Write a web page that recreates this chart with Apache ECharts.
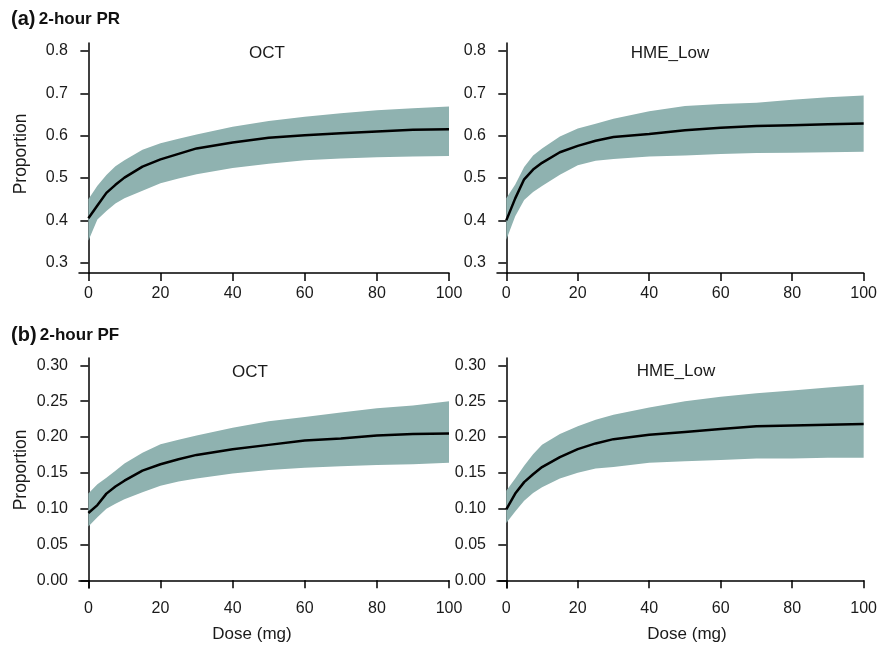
<!DOCTYPE html>
<html>
<head>
<meta charset="utf-8">
<script src="https://cdn.jsdelivr.net/npm/echarts@6/dist/echarts.min.js"></script>
<style>
  html, body { margin: 0; padding: 0; background: #fff; }
  #chart { width: 880px; height: 645px; }
</style>
</head>
<body>
<div id="chart"></div>
<script>
// dose grid shared by all four panels
const dose = [0, 2.5, 5, 7.5, 10, 15, 20, 25, 30, 40, 50, 60, 70, 80, 90, 100];

// (a) 2-hour PR
const prOctMean = [0.405, 0.435, 0.465, 0.484, 0.501, 0.527, 0.544, 0.557, 0.570, 0.584, 0.595, 0.601, 0.606, 0.610, 0.614, 0.615];
const prOctHi   = [0.450, 0.482, 0.507, 0.528, 0.542, 0.567, 0.582, 0.593, 0.603, 0.621, 0.635, 0.645, 0.653, 0.660, 0.665, 0.669];
const prOctLo   = [0.352, 0.402, 0.422, 0.440, 0.452, 0.470, 0.488, 0.499, 0.509, 0.524, 0.534, 0.542, 0.546, 0.549, 0.551, 0.552];
const prHmeMean = [0.400, 0.452, 0.497, 0.520, 0.536, 0.561, 0.576, 0.588, 0.597, 0.604, 0.613, 0.619, 0.623, 0.625, 0.627, 0.629];
const prHmeHi   = [0.452, 0.485, 0.526, 0.553, 0.570, 0.598, 0.617, 0.628, 0.640, 0.658, 0.670, 0.675, 0.678, 0.685, 0.691, 0.695];
const prHmeLo   = [0.354, 0.410, 0.448, 0.467, 0.481, 0.508, 0.530, 0.541, 0.545, 0.551, 0.553, 0.557, 0.559, 0.560, 0.561, 0.562];

// (b) 2-hour PF
const pfOctMean = [0.094, 0.105, 0.121, 0.131, 0.139, 0.153, 0.162, 0.169, 0.175, 0.183, 0.189, 0.195, 0.198, 0.202, 0.204, 0.205];
const pfOctHi   = [0.121, 0.134, 0.143, 0.153, 0.163, 0.178, 0.190, 0.196, 0.202, 0.213, 0.222, 0.228, 0.234, 0.240, 0.244, 0.250];
const pfOctLo   = [0.075, 0.088, 0.100, 0.107, 0.113, 0.123, 0.132, 0.138, 0.142, 0.149, 0.154, 0.157, 0.159, 0.161, 0.162, 0.164];
const pfHmeMean = [0.099, 0.121, 0.137, 0.148, 0.158, 0.172, 0.183, 0.191, 0.197, 0.203, 0.207, 0.211, 0.215, 0.216, 0.217, 0.218];
const pfHmeHi   = [0.125, 0.142, 0.160, 0.176, 0.189, 0.204, 0.215, 0.224, 0.231, 0.241, 0.250, 0.256, 0.261, 0.265, 0.269, 0.273];
const pfHmeLo   = [0.080, 0.096, 0.111, 0.122, 0.130, 0.142, 0.150, 0.156, 0.158, 0.164, 0.166, 0.168, 0.170, 0.170, 0.171, 0.171];

// tick labels
const xTicks = [0, 20, 40, 60, 80, 100];
const prTicks = [0.3, 0.4, 0.5, 0.6, 0.7, 0.8];
const pfTicks = [0, 0.05, 0.10, 0.15, 0.20, 0.25, 0.30];

const FONT = '"Liberation Sans", Arial, Helvetica, sans-serif';
const BAND = '#8fb2b0';

const pairs = (ys) => dose.map((d, i) => [d, ys[i]]);

const grids = [
  { left: 79, top: 43, width: 370, height: 230 },
  { left: 497, top: 43, width: 369, height: 230 },
  { left: 79, top: 358, width: 370, height: 230 },
  { left: 497, top: 358, width: 369, height: 230 }
];

const axisLine = { lineStyle: { color: '#000', width: 1.5 } };
const axisTick = { length: 8, lineStyle: { color: '#000', width: 1.5 } };

const xAxes = grids.map((g, i) => ({
  type: 'value', gridIndex: i, min: -2.6, max: 100,
  axisLine: axisLine,
  axisTick: Object.assign({ customValues: xTicks }, axisTick),
  axisLabel: { customValues: xTicks, color: '#1a1a1a', fontSize: 16, fontFamily: FONT, margin: 13 },
  splitLine: { show: false }
}));

const yAxes = grids.map((g, i) => {
  const isPR = i < 2;
  const ticks = isPR ? prTicks : pfTicks;
  return {
    type: 'value', gridIndex: i,
    min: isPR ? 0.2757 : -0.0107,
    max: isPR ? 0.819 : 0.3102,
    axisLine: axisLine,
    axisTick: Object.assign({ customValues: ticks }, axisTick),
    axisLabel: {
      customValues: ticks, color: '#1a1a1a', fontSize: 16, fontFamily: FONT, margin: 11,
      formatter: (v) => isPR ? v.toFixed(1) : v.toFixed(2)
    },
    splitLine: { show: false }
  };
});

const panels = [
  [prOctMean, prOctHi, prOctLo],
  [prHmeMean, prHmeHi, prHmeLo],
  [pfOctMean, pfOctHi, pfOctLo],
  [pfHmeMean, pfHmeHi, pfHmeLo]
];

const series = [];
panels.forEach((p, i) => {
  const [mean, hi, lo] = p;
  // band as one polygon: upper bound left→right, lower bound right→left
  series.push({
    type: 'custom', xAxisIndex: i, yAxisIndex: i, silent: true,
    data: dose.map((d, k) => [d, lo[k], hi[k]]),
    encode: { x: 0, y: [1, 2] },
    renderItem: function (params, api) {
      if (params.dataIndex !== 0) return null;
      const pts = [];
      dose.forEach((d, k) => pts.push(api.coord([d, hi[k]])));
      for (let k = dose.length - 1; k >= 0; k--) pts.push(api.coord([dose[k], lo[k]]));
      return { type: 'polygon', shape: { points: pts }, style: { fill: BAND } };
    }
  });
  series.push({
    type: 'line', xAxisIndex: i, yAxisIndex: i, z: 4,
    data: pairs(mean), symbol: 'none', silent: true,
    lineStyle: { color: '#000', width: 2.5 }
  });
});

const txt = (x, y, text, size, extra) => Object.assign({
  type: 'text', x: x, y: y,
  style: { text: text, fill: '#1a1a1a', font: size + 'px ' + FONT, textAlign: 'center', textVerticalAlign: 'middle' }
}, extra || {});

const rich = {
  a: { fontSize: 20, fontWeight: 'bold', fontFamily: FONT, fill: '#111' },
  b: { fontSize: 17, fontWeight: 'bold', fontFamily: FONT, fill: '#111' }
};

const graphic = [
  { type: 'text', x: 11, y: 19, style: { rich: rich, text: '{a|(a)} {b|2-hour PR}', textVerticalAlign: 'middle' } },
  { type: 'text', x: 11, y: 335, style: { rich: rich, text: '{a|(b)} {b|2-hour PF}', textVerticalAlign: 'middle' } },
  txt(267, 53, 'OCT', 17),
  txt(670, 53, 'HME_Low', 17),
  txt(250, 372, 'OCT', 17),
  txt(676, 371, 'HME_Low', 17),
  txt(21, 154, 'Proportion', 17.5, { rotation: Math.PI / 2 }),
  txt(21, 470, 'Proportion', 17.5, { rotation: Math.PI / 2 }),
  txt(252, 634, 'Dose (mg)', 17),
  txt(687, 634, 'Dose (mg)', 17)
];

const chart = echarts.init(document.getElementById('chart'), null, { renderer: 'canvas' });
chart.setOption({
  animation: false,
  backgroundColor: '#fff',
  grid: grids,
  xAxis: xAxes,
  yAxis: yAxes,
  series: series,
  graphic: graphic
});
</script>
</body>
</html>
